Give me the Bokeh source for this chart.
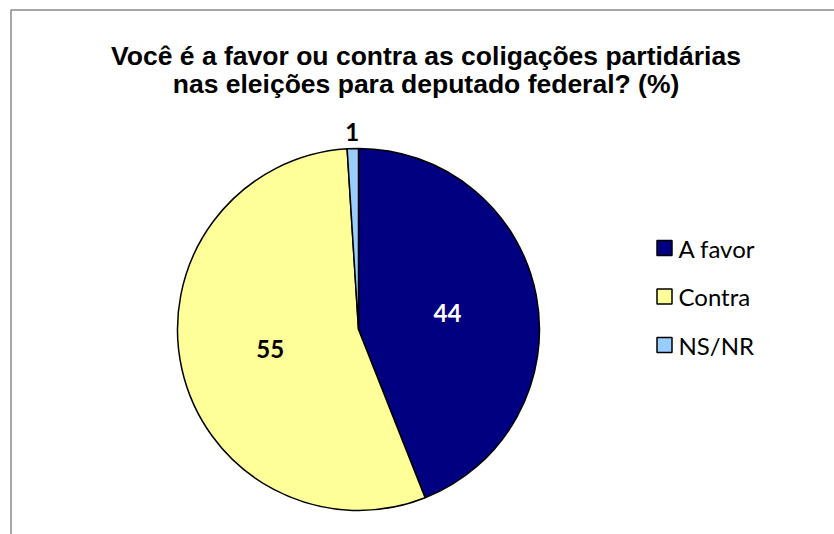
import math
from bokeh.plotting import figure
from bokeh.models import Range1d, ColumnDataSource
from bokeh.core.properties import value
from bokeh.embed import file_html
from bokeh.resources import INLINE

# ---- data ----
categories = ["A favor", "Contra", "NS/NR"]
values = [44, 55, 1]
colors = ["#000080", "#FFFF99", "#99CCFF"]
label_colors = ["#FFFFFF", "#000000", "#000000"]
title_lines = ["Você é a favor ou contra as coligações partidárias",
               "nas eleições para deputado federal? (%)"]

# ---- layout (pixel-like data units) ----
W, H = 834, 534
CX, CY, R = 358, 205, 181

p = figure(width=W, height=H, output_backend="svg", toolbar_location=None,
           x_range=Range1d(0, W), y_range=Range1d(0, H), min_border=0)
p.axis.visible = False
p.grid.visible = False
p.outline_line_color = None
p.background_fill_color = "white"
p.border_fill_color = "white"

# chart border (cropped box)
p.line(x=[10.5, 10.5, W], y=[0, 524.5, 524.5], line_color="#8a8a8a", line_width=1.5)

# pie wedges, clockwise from 12 o'clock
total = float(sum(values))
starts, ends, mids = [], [], []
a = math.pi / 2
for v in values:
    span = v / total * 2 * math.pi
    starts.append(a)
    ends.append(a - span)
    mids.append(a - span / 2)
    a -= span

src = ColumnDataSource(dict(start=starts, end=ends, color=colors))
p.wedge(x=CX, y=CY, radius=R, start_angle="start", end_angle="end",
        direction="clock", fill_color="color", line_color="black",
        line_width=1.5, source=src)

# data labels
lx, ly = [], []
for v, m in zip(values, mids):
    f = 1.09 if v / total < 0.05 else 0.5
    lx.append(CX + f * R * math.cos(m))
    ly.append(CY + f * R * math.sin(m))
lsrc = ColumnDataSource(dict(x=lx, y=ly, t=[str(v) for v in values], c=label_colors))
p.text(x="x", y="y", text="t", text_color="c", source=lsrc,
       text_font=value("Lato"), text_font_style="bold", text_font_size="24px",
       text_align="center", text_baseline="middle")

# title
p.text(x=[425.5, 425.5], y=[479, 451], text=title_lines,
       text_font=value("Liberation Sans"), text_font_style="bold",
       text_font_size="26.5px", text_align="center", text_baseline="alphabetic",
       text_color="black")

# legend
LX, LY0, LSP = 664, 286.5, 48.5
leg_y = [LY0 - i * LSP for i in range(len(categories))]
p.rect(x=[LX] * len(categories), y=leg_y, width=15, height=15,
       fill_color=colors, line_color="black", line_width=1.5)
p.text(x=[LX + 14] * len(categories), y=leg_y, text=categories,
       text_font=value("Lato"), text_font_size="24px", text_color="black",
       text_align="left", text_baseline="middle")

open("out.html", "w").write(file_html(p, INLINE))
